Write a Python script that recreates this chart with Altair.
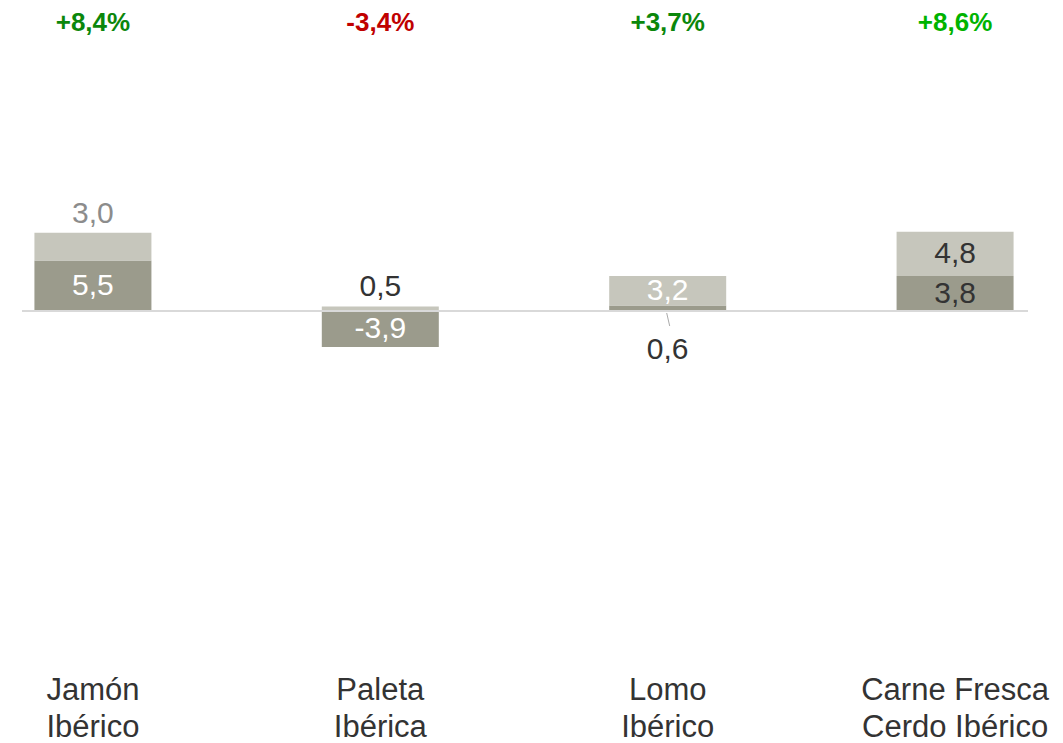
import altair as alt
import pandas as pd

# ---- data ----
categories = ["Jamón\nIbérico", "Paleta\nIbérica", "Lomo\nIbérico", "Carne Fresca\nCerdo Ibérico"]
dark_values = [5.5, -3.9, 0.6, 3.8]
light_values = [3.0, 0.5, 3.2, 4.8]
pct_labels = ["+8,4%", "-3,4%", "+3,7%", "+8,6%"]

# ---- styles ----
DARK = "#9b9b8c"
LIGHT = "#c6c6bc"
PCT_COLORS = ["#0b870b", "#c00000", "#0b870b", "#00b300"]
# label placement / colour for each segment (category index, series)
placement = {
    (0, "dark"): ("inside", "#ffffff"), (0, "light"): ("above", "#8c8c8c"),
    (1, "dark"): ("inside", "#ffffff"), (1, "light"): ("above", "#333333"),
    (2, "dark"): ("below", "#333333"), (2, "light"): ("inside", "#ffffff"),
    (3, "dark"): ("inside", "#333333"), (3, "light"): ("inside", "#333333"),
}

def fmt(v):
    return f"{v:.1f}".replace(".", ",")

rows = []
for i, cat in enumerate(categories):
    pos, neg = 0.0, 0.0
    for series, v in (("dark", dark_values[i]), ("light", light_values[i])):
        if v >= 0:
            y0, y1 = pos, pos + v
            pos = y1
        else:
            y0, y1 = neg, neg + v
            neg = y1
        place, col = placement[(i, series)]
        rows.append(dict(category=cat, series=series, value=v, y0=y0, y1=y1,
                         mid=(y0 + y1) / 2, label=fmt(v), place=place, tcolor=col))
df = pd.DataFrame(rows)

pct_df = pd.DataFrame({"category": categories, "pct": pct_labels, "pcolor": PCT_COLORS})

FONT = "Liberation Sans"

def X():
    return alt.X("category:N", sort=categories,
                 scale=alt.Scale(paddingInner=0.593, paddingOuter=0.092),
                 axis=alt.Axis(title=None, domain=False, ticks=False, labelAngle=0,
                               labelFont=FONT, labelFontSize=31, labelColor="#333333",
                               labelLineHeight=37, labelPadding=7, labelBaseline="top",
                               labelLimit=0, labelOverlap=False, labelFlush=False,
                               labelExpr="split(datum.label, '\\n')"))

yscale = alt.Scale(domain=[-38.8, 32.93], nice=False, zero=False)

base = alt.Chart(df)

bars = base.mark_bar(size=117).encode(
    x=X(),
    y=alt.Y("y0:Q", scale=yscale, axis=None),
    y2="y1:Q",
    color=alt.Color("series:N", scale=alt.Scale(domain=["dark", "light"], range=[DARK, LIGHT]), legend=None),
)

zero_rule = alt.Chart(pd.DataFrame({"z": [0]})).mark_rule(color="#d9d9d9", strokeWidth=2).encode(
    y=alt.Y("z:Q", scale=yscale, axis=None),
    x=alt.value(14), x2=alt.value(1020),
)

inside = base.transform_filter("datum.place == 'inside'").mark_text(
    font=FONT, fontSize=30, baseline="middle", align="center").encode(
    x=X(), y=alt.Y("mid:Q", scale=yscale, axis=None),
    text="label:N", color=alt.Color("tcolor:N", scale=None))

above = base.transform_filter("datum.place == 'above'").mark_text(
    font=FONT, fontSize=30, baseline="middle", align="center", dy=-19).encode(
    x=X(), y=alt.Y("y1:Q", scale=yscale, axis=None),
    text="label:N", color=alt.Color("tcolor:N", scale=None))

below = base.transform_filter("datum.place == 'below'").mark_text(
    font=FONT, fontSize=30, baseline="middle", align="center", dy=39).encode(
    x=X(), y=alt.Y("y0:Q", scale=yscale, axis=None),
    text="label:N", color=alt.Color("tcolor:N", scale=None))

leader = base.transform_filter("datum.place == 'below'").mark_rule(
    color="#aaaaaa", strokeWidth=1, yOffset=2, y2Offset=15, xOffset=-1, x2Offset=2).encode(
    x=X(), x2="category:N",
    y=alt.Y("y0:Q", scale=yscale, axis=None), y2="y0:Q")

pct = alt.Chart(pct_df).mark_text(font=FONT, fontSize=26, fontWeight="bold",
                                  baseline="middle", align="center").encode(
    x=X(), y=alt.value(15), text="pct:N", color=alt.Color("pcolor:N", scale=None))

chart = alt.layer(bars, zero_rule, inside, above, below, leader, pct).properties(
    width=1032, height=660, autosize="none",
    padding={"left": 0, "top": 0, "right": 15, "bottom": 75},
    background="white",
).configure_view(stroke=None)

chart.save("out.html", embed_options={"renderer": "svg", "actions": False})
